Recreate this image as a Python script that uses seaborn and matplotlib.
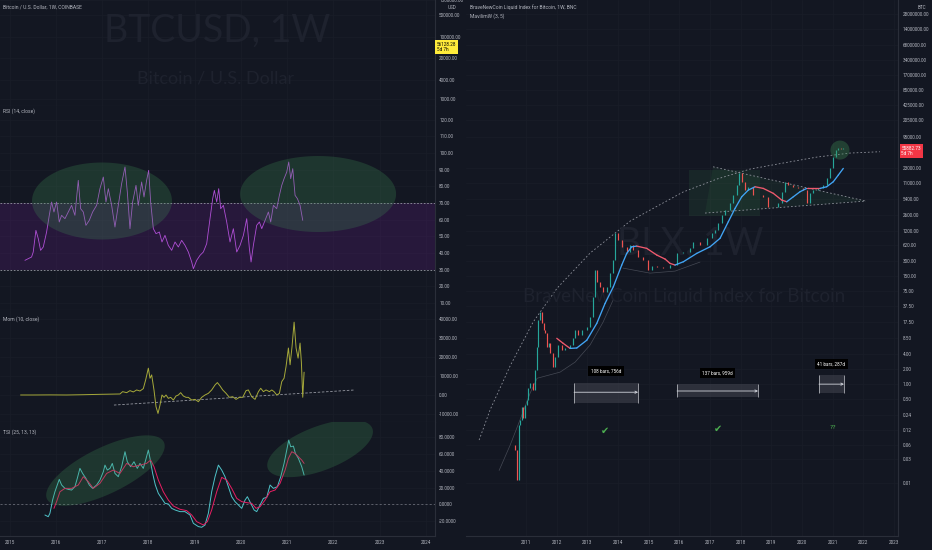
import numpy as np
import matplotlib
matplotlib.use('Agg')
import matplotlib.pyplot as plt
from matplotlib.collections import LineCollection
from matplotlib.patches import Rectangle
from matplotlib.ticker import NullLocator
import seaborn as sns

# ---------------- data ----------------
# left side (Coinbase BTCUSD weekly) - x in decimal years
rsi_x = [2015.329, 2015.401, 2015.473, 2015.509, 2015.567, 2015.618, 2015.668, 2015.726, 2015.798, 2015.856,
         2015.906, 2015.957, 2016.014, 2016.072, 2016.123, 2016.195, 2016.267, 2016.339, 2016.411, 2016.483,
         2016.534, 2016.592, 2016.649, 2016.722, 2016.794, 2016.880, 2016.952, 2017.025, 2017.082, 2017.133,
         2017.205, 2017.277, 2017.349, 2017.421, 2017.494, 2017.544, 2017.602, 2017.659, 2017.732, 2017.782,
         2017.854, 2017.905, 2017.962, 2018.006, 2018.049, 2018.107, 2018.165, 2018.237, 2018.294, 2018.359,
         2018.431, 2018.504, 2018.576, 2018.648, 2018.720, 2018.792, 2018.864, 2018.937, 2018.973, 2019.045,
         2019.117, 2019.189, 2019.261, 2019.333, 2019.391, 2019.427, 2019.478, 2019.521, 2019.564, 2019.622,
         2019.694, 2019.766, 2019.838, 2019.911, 2019.983, 2020.055, 2020.127, 2020.185, 2020.221, 2020.271,
         2020.343, 2020.401, 2020.452, 2020.524, 2020.596, 2020.646, 2020.704, 2020.776, 2020.834, 2020.885,
         2020.935, 2020.993, 2021.036, 2021.079, 2021.123, 2021.173, 2021.224, 2021.281, 2021.339]
rsi_v = [35.6, 36.6, 37.6, 40.6, 53.6, 48.6, 41.6, 43.6, 52.6, 62.6,
         70.6, 64.6, 70.6, 58.6, 62.6, 60.6, 64.6, 68.6, 62.6, 83.6,
         66.6, 64.6, 56.6, 59.6, 64.6, 68.6, 78.6, 85.6, 70.6, 78.6,
         68.6, 55.6, 68.6, 81.6, 91.6, 76.6, 54.6, 70.6, 80.6, 68.6,
         82.6, 73.6, 83.6, 89.6, 70.6, 54.6, 51.6, 52.6, 46.6, 50.6,
         44.6, 41.6, 46.6, 43.6, 47.6, 44.6, 40.6, 34.6, 30.6, 35.6,
         38.6, 40.6, 45.6, 60.6, 72.6, 77.6, 70.6, 78.6, 66.6, 68.6,
         58.6, 46.6, 54.6, 40.6, 44.6, 50.6, 60.6, 42.6, 34.6, 44.6,
         56.6, 58.6, 54.6, 59.6, 64.6, 58.6, 68.6, 66.6, 74.6, 80.6,
         84.6, 88.6, 94.6, 84.6, 90.6, 74.6, 72.6, 68.6, 59.6]

mom_x = [2015.235, 2015.509, 2015.870, 2016.231, 2016.592, 2016.952, 2017.385, 2017.443, 2017.530, 2017.602,
         2017.674, 2017.746, 2017.818, 2017.890, 2017.941, 2017.999, 2018.035, 2018.071, 2018.121, 2018.165,
         2018.208, 2018.251, 2018.294, 2018.338, 2018.381, 2018.431, 2018.482, 2018.540, 2018.597, 2018.648,
         2018.698, 2018.756, 2018.814, 2018.864, 2018.937, 2019.009, 2019.081, 2019.153, 2019.225, 2019.297,
         2019.369, 2019.442, 2019.492, 2019.550, 2019.608, 2019.680, 2019.752, 2019.824, 2019.896, 2019.968,
         2020.040, 2020.113, 2020.163, 2020.235, 2020.307, 2020.380, 2020.430, 2020.488, 2020.545, 2020.618,
         2020.668, 2020.719, 2020.777, 2020.834, 2020.885, 2020.935, 2020.978, 2021.029, 2021.065, 2021.108,
         2021.152, 2021.195, 2021.238, 2021.281, 2021.310, 2021.339, 2021.368]
mom_v = [0, 0, 50, 0, 150, 350, 530, 1760, 1230, 2300,
         1600, 2650, 2100, 3350, 7940, 14100, 8800, 10580, 2650, -6170,
         -9700, -5290, 0, -1230, 0, -1760, -1230, -2650, -530, 0,
         1230, -530, -1230, -1230, -2650, -2300, -3530, -1230, 0, 880,
         2650, 5290, 6530, 4760, 2650, 880, -1230, -880, -2300, -1230,
         -1230, 2300, 2650, -880, -2300, 1760, 3530, 1760, 2650, 1760,
         2650, 1760, 0, 880, 7050, 8820, 15000, 24700, 15900, 25600,
         38300, 24700, 19400, 27300, 17000, -1200, 12000]
mom_trend_x = [2017.255, 2022.47]
mom_trend_v = [-5290, 2650]

tsi_x = [2015.762, 2015.834, 2015.870, 2015.928, 2015.978, 2016.029, 2016.072, 2016.123, 2016.195, 2016.267,
         2016.339, 2016.411, 2016.462, 2016.519, 2016.577, 2016.649, 2016.722, 2016.794, 2016.880, 2016.952,
         2017.025, 2017.061, 2017.111, 2017.169, 2017.219, 2017.277, 2017.349, 2017.421, 2017.494, 2017.544,
         2017.616, 2017.688, 2017.760, 2017.818, 2017.890, 2017.941, 2017.999, 2018.035, 2018.092, 2018.150,
         2018.215, 2018.287, 2018.359, 2018.431, 2018.504, 2018.576, 2018.684, 2018.792, 2018.900, 2018.973,
         2019.081, 2019.153, 2019.225, 2019.297, 2019.369, 2019.442, 2019.514, 2019.586, 2019.658, 2019.730,
         2019.802, 2019.874, 2019.947, 2020.019, 2020.091, 2020.141, 2020.214, 2020.286, 2020.343, 2020.416,
         2020.488, 2020.560, 2020.632, 2020.704, 2020.791, 2020.863, 2020.935, 2020.993, 2021.036, 2021.079,
         2021.137, 2021.180, 2021.245, 2021.317, 2021.368]
tsi_v = [-12.7, -14.7, -10.7, 5.1, 15, 23, 29.7, 23, 19, 17.8,
         17, 21, 30.9, 42.8, 36.8, 30.9, 23, 19, 23, 28.9,
         38.8, 46.7, 40.8, 42.8, 48.7, 36.8, 32.9, 44.8, 62.6, 50.7,
         44.8, 50.7, 42.8, 48.7, 42.8, 52.7, 64.6, 54.7, 36.8, 23,
         13.1, 7.1, 1.2, 0.4, -4.8, -6.7, -8.7, -8.7, -12.7, -22.6,
         -26.5, -27.3, -24.6, -10.7, 15, 32.9, 46.7, 40.8, 32.9, 21,
         9.1, 3.2, -0.8, -4.8, 5.1, 9.1, 1.2, -6.7, -8.7, -0.8,
         7.1, 8.3, 23, 19, 21, 32.9, 48.7, 64.6, 76.4, 68.5,
         69.3, 60.6, 54.7, 44.8, 34.9]
sig_x = [2015.957, 2016.014, 2016.087, 2016.195, 2016.339, 2016.483, 2016.592, 2016.700, 2016.808, 2016.952,
         2017.097, 2017.241, 2017.385, 2017.530, 2017.674, 2017.818, 2017.962, 2018.049, 2018.121, 2018.215,
         2018.323, 2018.431, 2018.540, 2018.684, 2018.828, 2018.937, 2019.045, 2019.189, 2019.276, 2019.369,
         2019.478, 2019.586, 2019.694, 2019.802, 2019.911, 2020.019, 2020.127, 2020.235, 2020.329, 2020.416,
         2020.524, 2020.632, 2020.740, 2020.848, 2020.957, 2021.029, 2021.101, 2021.173, 2021.245, 2021.317,
         2021.368]
sig_v = [-4.8, 3.2, 15, 19, 19, 23, 32.9, 26.9, 19, 25,
         36.8, 40.8, 36.8, 48.7, 44.8, 46.7, 48.7, 52.7, 44.8, 28.9,
         15, 5.1, -2, -5.9, -7.5, -12.7, -20.6, -24.6, -20.6, -6.7,
         15, 32.1, 28.9, 19, 7.1, 3.2, 2, 1.2, -4.8, -2.8,
         5.1, 15, 17, 25, 40.8, 54.7, 62.6, 60.6, 56.6, 52.7,
         48.7]

# right side (BraveNewCoin BLX weekly closes, log scale)
blx_x = [2010.576, 2010.641, 2010.707, 2010.772, 2010.804, 2010.860, 2010.902, 2010.967, 2011.023, 2011.065,
         2011.130, 2011.218, 2011.293, 2011.349, 2011.401, 2011.456, 2011.512, 2011.571, 2011.620, 2011.675,
         2011.734, 2011.783, 2011.871, 2011.946, 2012.043, 2012.164, 2012.272, 2012.435, 2012.532, 2012.598,
         2012.695, 2012.816, 2012.979, 2013.087, 2013.185, 2013.250, 2013.305, 2013.413, 2013.511, 2013.631,
         2013.739, 2013.827, 2013.902, 2014.000, 2014.120, 2014.283, 2014.391, 2014.489, 2014.652, 2014.815,
         2014.978, 2015.108, 2015.262, 2015.467, 2015.695, 2015.914, 2016.119, 2016.347, 2016.445, 2016.673,
         2016.892, 2017.055, 2017.162, 2017.260, 2017.381, 2017.488, 2017.651, 2017.749, 2017.870, 2017.945,
         2018.033, 2018.141, 2018.239, 2018.402, 2018.565, 2018.728, 2018.891, 2019.054, 2019.217, 2019.338,
         2019.445, 2019.543, 2019.706, 2019.869, 2020.032, 2020.153, 2020.260, 2020.358, 2020.521, 2020.684,
         2020.804, 2020.912, 2021.010, 2021.108, 2021.173, 2021.261, 2021.326]
blx_c = [0.058, 0.046, 0.0115, 0.148, 0.187, 0.34, 0.21, 0.37, 0.47, 0.82,
         1.04, 0.75, 1.9, 5.5, 19.3, 28, 16.8, 12.2, 10.6, 5.5,
         6.6, 4.2, 2.2, 3.5, 6.1, 4.8, 5.3, 6.1, 8.4, 12.2,
         9.6, 12.2, 13.9, 22, 56, 197, 113, 89, 71, 89,
         171, 313, 1100, 793, 573, 455, 630, 500, 362, 313,
         197, 237, 226, 216, 248, 435, 455, 548, 724, 630,
         873, 1100, 1260, 1750, 2540, 3190, 4420, 6420, 10200, 17800,
         11700, 8080, 9300, 6420, 6420, 5840, 3690, 3690, 4420, 7380,
         11700, 10200, 9300, 8860, 8080, 4420, 7040, 8080, 8860, 10200,
         14100, 22400, 37400, 51800, 56700, 55500, 55883]
mav_x = [2012.001, 2012.206, 2012.435, 2012.653, 2012.979, 2013.305, 2013.576, 2013.846, 2014.120, 2014.283,
         2014.446, 2014.609, 2014.935, 2015.262, 2015.532, 2015.695, 2015.858, 2016.129, 2016.566, 2016.999,
         2017.325, 2017.596, 2017.815, 2018.033, 2018.248, 2018.467, 2018.737, 2019.063, 2019.338, 2019.501,
         2019.716, 2019.934, 2020.153, 2020.368, 2020.586, 2020.804, 2021.020, 2021.183, 2021.346]
mav_v = [8.3, 6.6, 5.2, 5.3, 7.6, 16.6, 42, 91, 249, 428,
         581, 600, 540, 396, 329, 269, 249, 290, 428, 581,
         860, 1860, 3450, 5920, 8080, 9420, 8730, 6940, 5080, 4700,
         5920, 7480, 8730, 8730, 8730, 9420, 11900, 16200, 22100]

# drawn annotations on the BLX chart
arc_x = [2009.468, 2009.826, 2010.478, 2011.228, 2012.011, 2013.087, 2014.391, 2015.043, 2016.119, 2017.228,
         2018.304, 2019.380, 2020.488, 2021.564, 2022.542]
arc_v = [0.074, 0.30, 2.3, 17.6, 85, 434, 1910, 3190, 7380, 13500, 21400, 28300, 37400, 45000, 47900]
sup1_x = [2010.120, 2010.478, 2010.804, 2011.130, 2011.359, 2012.109, 2012.598, 2013.087, 2013.511, 2013.837]
sup1_v = [0.018, 0.058, 0.19, 0.65, 1.3, 1.73, 2.75, 6.1, 17.6, 49]
sup2_x = [2014.163, 2015.043, 2015.858, 2016.673]
sup2_v = [216, 171, 188, 286]
tri_up_x, tri_up_v = [2017.097, 2022.086], [23800, 4850]
tri_lo_x, tri_lo_v = [2016.836, 2022.086], [2780, 4850]
zone_x, zone_v = [2016.315, 2018.630], [2420, 20500]
ranges = [  # x0, x1, low, high, arrow level, label, label level
    (2012.565, 2014.652, 0.41, 1.04, 0.68, '108 bars, 756d', 1.81),
    (2015.923, 2018.565, 0.54, 0.99, 0.72, '137 bars, 959d', 1.65),
    (2020.553, 2021.368, 0.65, 1.50, 0.99, '41 bars, 287d', 2.5),
]
marks = [(2013.576, 0.112, '\u2714'), (2017.260, 0.123, '\u2714'), (2021.010, 0.135, '??')]

p_ticks = [1000, 4000, 20000, 100000, 500000, 1500000]
rsi_ticks = [10, 20, 30, 40, 50, 60, 70, 80, 90, 100, 110, 120]
mom_ticks = [-10000, 0, 10000, 20000, 30000, 40000]
tsi_ticks = [-20, 0, 20, 40, 60, 80]
blx_ticks = [0.01, 0.03, 0.06, 0.12, 0.24, 0.5, 1, 2, 4, 8.5, 17.5, 37.5, 75, 150, 300, 620, 1200, 2600,
             5400, 11000, 23000, 95000, 205000, 425000, 850000, 1700000, 3400000, 6800000, 14000000, 28000000]
left_years = list(range(2015, 2025))
right_years = list(range(2011, 2024))

# ---------------- style ----------------
BG = '#131722'
GRID = '#191d28'
LINE = '#2a2e39'
TXT = '#b2b5be'
WM = '#1e222e'
FS = 3.3
GREEN, RED = '#26a69a', '#ef5350'

sns.set_theme(style='dark', rc={'axes.facecolor': BG, 'figure.facecolor': BG})
plt.rcParams['font.family'] = ['Roboto', 'DejaVu Sans']

fig = plt.figure(figsize=(9.32, 5.5), dpi=100, facecolor=BG)


def box(x0, y0, x1, y1):
    return [x0 / 932, 1 - y1 / 550, (x1 - x0) / 932, (y1 - y0) / 550]


ax_p = fig.add_axes(box(0, 0, 435, 106))
ax_rsi = fig.add_axes(box(0, 106, 435, 310))
ax_mom = fig.add_axes(box(0, 310, 435, 422))
ax_tsi = fig.add_axes(box(0, 422, 435, 536))
ax_r = fig.add_axes(box(466, 0, 898, 536))
left_axes = [ax_p, ax_rsi, ax_mom, ax_tsi]

for ax in left_axes:
    ax.set_xlim(2014.79, 2024.20)
ax_r.set_xlim(2009.04, 2023.13)
ax_p.set_yscale('log')
ax_p.set_ylim(596, 1.5e6)
ax_rsi.set_ylim(5.8, 128.2)
ax_mom.set_ylim(-14200, 44700)
ax_tsi.set_ylim(-37.7, 98)
ax_r.set_yscale('log')
ax_r.set_ylim(0.00086, 5.48e7)


def pix_ellipse(ax, cx, cy, w, h, ang, **kw):
    # ellipse centred on a data point, size given in screen pixels
    X, Y = ax.transData.transform((cx, cy))
    t = np.linspace(0, 2 * np.pi, 120)
    a = np.deg2rad(ang)
    ex, ey = w / 2 * np.cos(t), h / 2 * np.sin(t)
    pts = np.column_stack([X + ex * np.cos(a) - ey * np.sin(a), Y + ex * np.sin(a) + ey * np.cos(a)])
    pts = ax.transData.inverted().transform(pts)
    ax.fill(pts[:, 0], pts[:, 1], **kw)


ell = dict(color='#3f8f55', alpha=0.26, lw=0, zorder=4)

# --- BTCUSD price pane (only watermark) ---
ax_p.text(0.50, 0.71, 'BTCUSD, 1W', transform=ax_p.transAxes, ha='center', va='center',
          fontsize=27, color=WM, family='Lato')
ax_p.text(0.495, 0.26, 'Bitcoin / U.S. Dollar', transform=ax_p.transAxes, ha='center', va='center',
          fontsize=13, color=WM, family='Lato')
ax_p.text(1.004, 47000, '56128.28\n5d 7h', transform=ax_p.get_yaxis_transform(), ha='left', va='center',
          fontsize=3.3, color='black', linespacing=1.1,
          bbox=dict(facecolor='#ffeb3b', edgecolor='none', pad=1.2))
ax_p.text(1.04, 0.93, 'USD', transform=ax_p.transAxes, ha='center', va='center', fontsize=FS, color=TXT)

# --- RSI ---
ax_rsi.axhspan(30, 70, color='#7b1fa2', alpha=0.2, lw=0, zorder=1)
for lvl in (30, 70):
    ax_rsi.axhline(lvl, color='#9598a1', lw=0.6, ls=(0, (2, 2)), zorder=2)
sns.lineplot(x=rsi_x, y=rsi_v, ax=ax_rsi, color='#b04fd6', lw=0.6, zorder=3)
pix_ellipse(ax_rsi, 2016.996, 71.2, 140, 77, 0, **ell)
pix_ellipse(ax_rsi, 2021.671, 75.4, 156, 76, 0, **ell)

# --- Momentum ---
sns.lineplot(x=mom_x, y=mom_v, ax=ax_mom, color='#a6a93a', lw=0.7, zorder=3)
ax_mom.plot(mom_trend_x, mom_trend_v, color='#9598a1', lw=0.6, ls=(0, (3, 2)), zorder=2)

# --- TSI ---
ax_tsi.axhline(0, color='#787b86', lw=0.5, ls=(0, (3, 3)), zorder=2)
sns.lineplot(x=tsi_x, y=tsi_v, ax=ax_tsi, color='#4fc3c9', lw=0.7, zorder=3)
sns.lineplot(x=sig_x, y=sig_v, ax=ax_tsi, color='#e91e63', lw=0.7, zorder=3)
pix_ellipse(ax_tsi, 2017.071, 40.2, 130, 46, 26, **ell)
pix_ellipse(ax_tsi, 2021.714, 66.5, 112, 44, 21, **ell)

# --- BLX right chart ---
ax_r.text(0.52, 0.545, 'BLX, 1W', transform=ax_r.transAxes, ha='center', va='center',
          fontsize=27, color=WM, family='Lato')
ax_r.text(0.505, 0.446, 'BraveNewCoin Liquid Index for Bitcoin', transform=ax_r.transAxes,
          ha='center', va='center', fontsize=13.5, color=WM, family='Lato')

ax_r.add_patch(Rectangle((zone_x[0], zone_v[0]), zone_x[1] - zone_x[0], zone_v[1] - zone_v[0],
                         facecolor='#2e5e3e', alpha=0.22, lw=0, zorder=1))
ax_r.fill([tri_up_x[0], tri_up_x[1], tri_lo_x[0]], [tri_up_v[0], tri_up_v[1], tri_lo_v[0]],
          color='#2e5e3e', alpha=0.18, lw=0, zorder=1)
dash = dict(color='#8f929c', lw=0.6, ls=(0, (2, 2.5)), zorder=2)
ax_r.plot(arc_x, arc_v, **dash)
ax_r.plot(tri_up_x, tri_up_v, **dash)
ax_r.plot(tri_lo_x, tri_lo_v, **dash)
ax_r.plot(sup1_x, sup1_v, color='#454954', lw=0.5, zorder=2)
ax_r.plot(sup2_x, sup2_v, color='#454954', lw=0.5, zorder=2)

opens = [blx_c[0]] + blx_c[:-1]
ccol = [GREEN if c >= o else RED for o, c in zip(opens, blx_c)]
ax_r.vlines(blx_x, np.minimum(opens, blx_c), np.maximum(opens, blx_c), colors=ccol, lw=0.85, zorder=3)

mx, mv = np.array(mav_x), np.array(mav_v)
segs = [[(mx[i], mv[i]), (mx[i + 1], mv[i + 1])] for i in range(len(mx) - 1)]
mcol = ['#42a5f5' if mv[i + 1] > mv[i] else '#f05a6e' for i in range(len(mx) - 1)]
ax_r.add_collection(LineCollection(segs, colors=mcol, lw=0.95, zorder=4, capstyle='round'))

pix_ellipse(ax_r, 2021.238, 51700, 19, 19, 0, color='#3f8f55', alpha=0.35, lw=0, zorder=5)

for x0, x1, lo, hi, lv, lab, ly in ranges:
    ax_r.add_patch(Rectangle((x0, lo), x1 - x0, hi - lo, facecolor='#434651', alpha=0.55, lw=0, zorder=3))
    ax_r.vlines([x0, x1], lo, hi, colors='#c8cad0', lw=0.5, zorder=4)
    ax_r.annotate('', xy=(x1, lv), xytext=(x0, lv), zorder=4,
                  arrowprops=dict(arrowstyle='->', color='#d1d4dc', lw=0.6, shrinkA=0, shrinkB=0,
                                  mutation_scale=4))
    ax_r.text((x0 + x1) / 2, ly, lab, ha='center', va='center', fontsize=3.3, color='white', zorder=6,
              bbox=dict(facecolor='black', edgecolor='none', pad=1.8))
for mxp, myp, sym in marks:
    ax_r.text(mxp, myp, sym, ha='center', va='center', color='#4caf50',
              fontsize=7 if sym != '??' else 4.5, family=['DejaVu Sans'], zorder=6)

ax_r.text(1.008, 49400, '55882.73\n5d 7h', transform=ax_r.get_yaxis_transform(), ha='left', va='center',
          fontsize=3.3, color='white', linespacing=1.1,
          bbox=dict(facecolor='#f23645', edgecolor='none', pad=1.2))
ax_r.text(1.055, 0.986, 'BTC', transform=ax_r.transAxes, ha='center', va='center', fontsize=FS, color=TXT)

# --- axes cosmetics ---
def dress(ax, ticks, fmt, years, show_x):
    ax.set_xlabel('')
    ax.set_ylabel('')
    ax.set_facecolor(BG)
    for name, sp in ax.spines.items():
        sp.set_visible(name in ('right', 'bottom'))
        sp.set_color(LINE)
        sp.set_linewidth(0.8)
    ax.yaxis.tick_right()
    ax.set_yticks(ticks)
    ax.set_yticklabels([fmt % t for t in ticks])
    ax.yaxis.set_minor_locator(NullLocator())
    ax.set_xticks(years)
    ax.set_xticklabels([str(y) for y in years] if show_x else [])
    ax.tick_params(axis='both', length=0, labelsize=FS, colors=TXT, pad=3)
    ax.grid(True, color=GRID, lw=0.5)
    ax.set_axisbelow(True)


dress(ax_p, p_ticks, '%.2f', left_years, False)
dress(ax_rsi, rsi_ticks, '%.2f', left_years, False)
dress(ax_mom, mom_ticks, '%.2f', left_years, False)
dress(ax_tsi, tsi_ticks, '%.4f', left_years, True)
dress(ax_r, blx_ticks, '%.2f', right_years, True)
ax_r.tick_params(axis='y', pad=3.5)

# pane titles
small = dict(fontsize=3.6, color=TXT, ha='left', va='center')
fig.text(3 / 932, 1 - 7 / 550, 'Bitcoin / U.S. Dollar, 1W, COINBASE', **small)
fig.text(3 / 932, 1 - 111 / 550, 'RSI (14, close)', **small)
fig.text(3 / 932, 1 - 319 / 550, 'Mom (10, close)', **small)
fig.text(3 / 932, 1 - 432 / 550, 'TSI (25, 13, 13)', **small)
fig.text(470 / 932, 1 - 7 / 550, 'BraveNewCoin Liquid Index for Bitcoin, 1W, BNC', **small)
fig.text(470 / 932, 1 - 16 / 550, 'MavilimW (3, 5)', **small)

fig.savefig('out.png', dpi=100, facecolor=BG)
